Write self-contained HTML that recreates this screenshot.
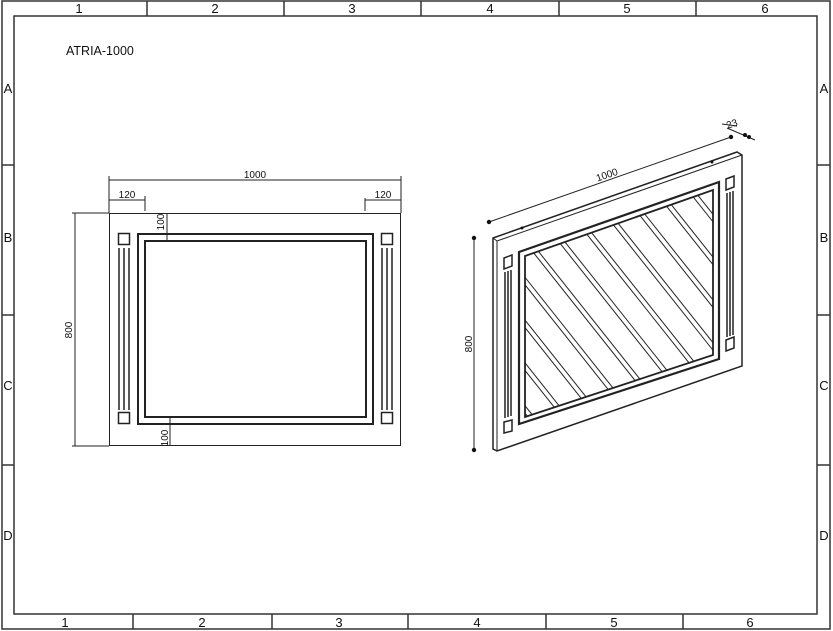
<!DOCTYPE html>
<html><head><meta charset="utf-8"><style>
html,body{margin:0;padding:0;background:#fff;}
svg{display:block;font-family:"Liberation Sans",sans-serif;}
</style></head><body>
<svg width="833" height="631" viewBox="0 0 833 631" xmlns="http://www.w3.org/2000/svg">
<defs>
<clipPath id="mc"><polygon points="525,256 713,190 713,355 525,417"/></clipPath>
</defs>
<g fill="none" stroke="#333" stroke-width="1.5">
<rect x="2" y="1" width="828" height="628"/>
<rect x="14" y="16" width="803" height="598"/>
<line x1="147" y1="1" x2="147" y2="16"/><line x1="284" y1="1" x2="284" y2="16"/><line x1="421" y1="1" x2="421" y2="16"/><line x1="559" y1="1" x2="559" y2="16"/><line x1="696" y1="1" x2="696" y2="16"/>
<line x1="133" y1="614" x2="133" y2="629"/><line x1="272" y1="614" x2="272" y2="629"/><line x1="408" y1="614" x2="408" y2="629"/><line x1="546" y1="614" x2="546" y2="629"/><line x1="683" y1="614" x2="683" y2="629"/>
<line x1="2" y1="165" x2="14" y2="165"/><line x1="2" y1="315" x2="14" y2="315"/><line x1="2" y1="465" x2="14" y2="465"/>
<line x1="817" y1="165" x2="830" y2="165"/><line x1="817" y1="315" x2="830" y2="315"/><line x1="817" y1="465" x2="830" y2="465"/>
</g>
<g font-size="13" fill="#111" text-anchor="middle">
<text x="79" y="13">1</text><text x="215" y="13">2</text><text x="352" y="13">3</text><text x="490" y="13">4</text><text x="627" y="13">5</text><text x="765" y="13">6</text>
<text x="65" y="627">1</text><text x="202" y="627">2</text><text x="339" y="627">3</text><text x="477" y="627">4</text><text x="614" y="627">5</text><text x="750" y="627">6</text>
<text x="8" y="93">A</text><text x="8" y="242">B</text><text x="8" y="390">C</text><text x="8" y="540">D</text>
<text x="824" y="93">A</text><text x="824" y="242">B</text><text x="824" y="390">C</text><text x="824" y="540">D</text>
</g>
<text x="66" y="55" font-size="12.5" fill="#111">ATRIA-1000</text>

<g fill="none" stroke="#222">
<rect x="109.5" y="213.5" width="291" height="232" stroke-width="1"/>
<rect x="138" y="234" width="235" height="190" stroke-width="2"/>
<rect x="145" y="241" width="221" height="176" stroke-width="2"/>
<rect x="118.5" y="233.5" width="11" height="11" stroke-width="1.5"/>
<rect x="118.5" y="412.5" width="11" height="11" stroke-width="1.5"/>
<rect x="381.5" y="233.5" width="11" height="11" stroke-width="1.5"/>
<rect x="381.5" y="412.5" width="11" height="11" stroke-width="1.5"/>
<g stroke-width="1.5">
<line x1="119" y1="248" x2="119" y2="410"/><line x1="124" y1="248" x2="124" y2="410"/><line x1="129" y1="248" x2="129" y2="410"/>
<line x1="382" y1="248" x2="382" y2="410"/><line x1="387" y1="248" x2="387" y2="410"/><line x1="392" y1="248" x2="392" y2="410"/>
</g>
<g stroke-width="1">
<line x1="109" y1="180" x2="401" y2="180"/><line x1="109" y1="176" x2="109" y2="213"/><line x1="401" y1="176" x2="401" y2="213"/>
<line x1="109" y1="200" x2="145" y2="200"/><line x1="145" y1="196" x2="145" y2="211"/>
<line x1="365" y1="200" x2="401" y2="200"/><line x1="365" y1="198" x2="365" y2="211"/>
<line x1="75" y1="213" x2="75" y2="446"/><line x1="72" y1="213" x2="109" y2="213"/><line x1="72" y1="446" x2="109" y2="446"/>
<line x1="167" y1="213" x2="167" y2="242"/><line x1="170" y1="416" x2="170" y2="446"/>
</g>
</g>
<g font-size="10" fill="#111" text-anchor="middle">
<text x="255" y="178">1000</text><text x="127" y="198">120</text><text x="383" y="198">120</text>
<text transform="translate(72,330) rotate(-90)">800</text>
<text transform="translate(164,222) rotate(-90)">100</text>
<text transform="translate(168,438) rotate(-90)">100</text>
</g>

<g fill="none" stroke="#222">
<polygon points="493,238 737,152 742,155 742,366 497,451 493,449" stroke-width="1.5"/>
<polyline points="493,238 497,241 742,155" stroke-width="1"/>
<line x1="497" y1="241" x2="497" y2="451" stroke-width="1"/>
<polygon points="519,252 719,182 719,359 519,424" stroke-width="2.2"/>
<polygon points="525,256 713,190 713,355 525,417" stroke-width="1.8"/>
<g clip-path="url(#mc)" stroke-width="1">
<line x1="300" y1="130" x2="590" y2="495"/><line x1="306" y1="130" x2="596" y2="495"/>
<line x1="334" y1="130" x2="624" y2="495"/><line x1="340" y1="130" x2="630" y2="495"/>
<line x1="368" y1="130" x2="658" y2="495"/><line x1="374" y1="130" x2="664" y2="495"/>
<line x1="402" y1="130" x2="692" y2="495"/><line x1="408" y1="130" x2="698" y2="495"/>
<line x1="436" y1="130" x2="726" y2="495"/><line x1="442" y1="130" x2="732" y2="495"/>
<line x1="470" y1="130" x2="760" y2="495"/><line x1="476" y1="130" x2="766" y2="495"/>
<line x1="504" y1="130" x2="794" y2="495"/><line x1="510" y1="130" x2="800" y2="495"/>
<line x1="538" y1="130" x2="828" y2="495"/><line x1="544" y1="130" x2="834" y2="495"/>
<line x1="572" y1="130" x2="862" y2="495"/><line x1="578" y1="130" x2="868" y2="495"/>
<line x1="606" y1="130" x2="896" y2="495"/><line x1="612" y1="130" x2="902" y2="495"/>
<line x1="640" y1="130" x2="930" y2="495"/><line x1="646" y1="130" x2="936" y2="495"/>
<line x1="674" y1="130" x2="964" y2="495"/><line x1="680" y1="130" x2="970" y2="495"/>
</g>
<g stroke-width="1.5">
<polygon points="504,258 512,255 512,266 504,269"/>
<polygon points="504,422 512,420 512,431 504,433"/>
<polygon points="726,179 734,176 734,187 726,190"/>
<polygon points="726,340 734,337 734,348 726,351"/>
<line x1="505" y1="272" x2="505" y2="418"/><line x1="508" y1="271" x2="508" y2="417"/><line x1="511" y1="270" x2="511" y2="416"/>
<line x1="727" y1="193" x2="727" y2="337"/><line x1="730" y1="192" x2="730" y2="336"/><line x1="733" y1="191" x2="733" y2="335"/>
</g>
<g stroke-width="1">
<line x1="474" y1="238" x2="474" y2="450"/>
<line x1="489" y1="222" x2="731" y2="137"/>
<line x1="727" y1="128" x2="755" y2="140"/>
<line x1="722" y1="124" x2="737" y2="126"/>
</g>
</g>
<g fill="#111">
<circle cx="474" cy="238" r="2.2"/><circle cx="474" cy="450" r="2.2"/>
<circle cx="489" cy="222" r="2.2"/><circle cx="731" cy="137" r="2.2"/>
<circle cx="745" cy="135" r="2"/><circle cx="749" cy="137" r="2"/>
<circle cx="522" cy="228" r="1.5"/><circle cx="712" cy="162" r="1.5"/>
</g>
<g font-size="10" fill="#111" text-anchor="middle">
<text transform="translate(608,178) rotate(-19)">1000</text>
<text transform="translate(733,127) rotate(-19)">23</text>
<text transform="translate(472,344) rotate(-90)">800</text>
</g>
</svg>
</body></html>
